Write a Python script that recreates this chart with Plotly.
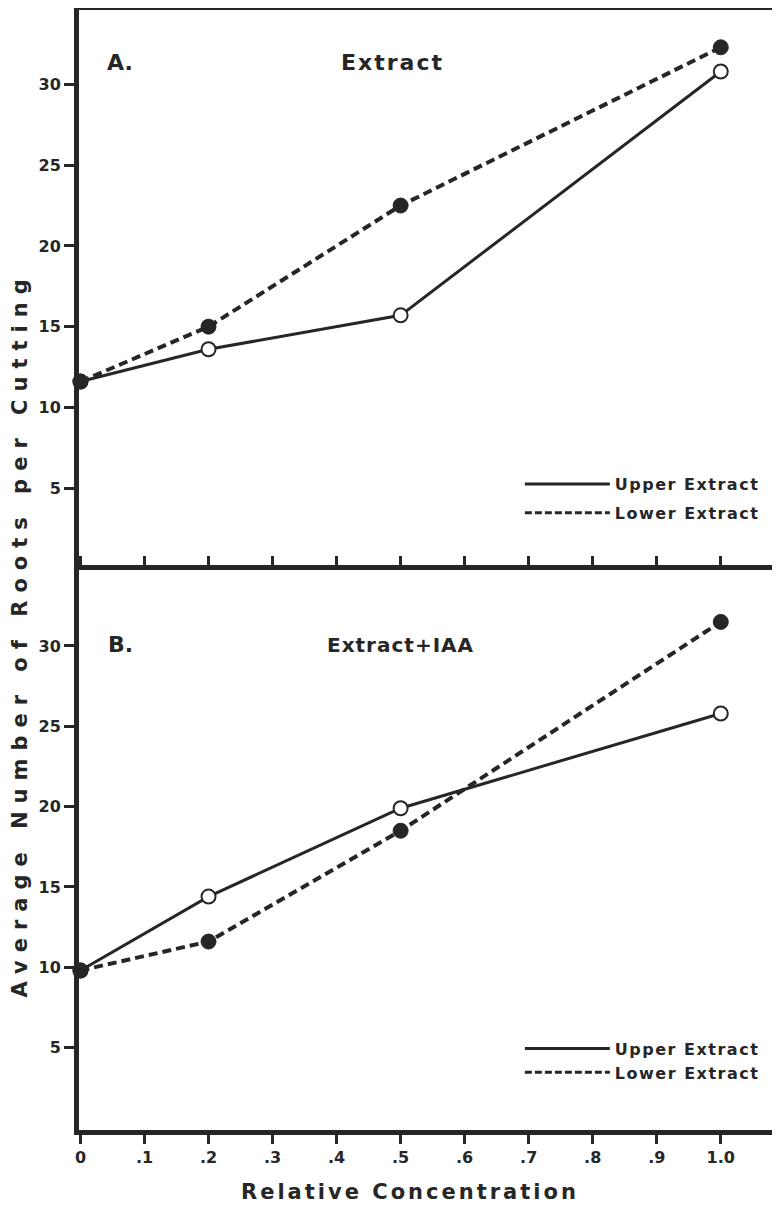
import plotly.graph_objects as go

# ---- data ----
conc = [0, 0.2, 0.5, 1.0]
a_upper = [11.6, 13.6, 15.7, 30.8]
a_lower = [11.6, 15.0, 22.5, 32.3]
b_upper = [9.8, 14.4, 19.9, 25.8]
b_lower = [9.8, 11.6, 18.5, 31.5]

x_tickvals = [0, 0.1, 0.2, 0.3, 0.4, 0.5, 0.6, 0.7, 0.8, 0.9, 1.0]
x_ticktext = ["0", ".1", ".2", ".3", ".4", ".5", ".6", ".7", ".8", ".9", "1.0"]
y_tickvals = [5, 10, 15, 20, 25, 30]

INK = "#262626"
FONT = "DejaVu Sans"

# page geometry (browser body has an 8px margin)
W, H = 772, 1213
PL, PR, PT, PB = 78.5, 772.5, 9.5, 1130.5


def px_x(px):
    return (px - PL) / (PR - PL)


def px_y(py):
    return (PB - py) / (PB - PT)


fig = go.Figure()


def add_panel(xa, ya, upper, lower):
    fig.add_trace(go.Scatter(
        x=conc, y=upper, xaxis=xa, yaxis=ya, mode="lines+markers",
        line=dict(color=INK, width=3),
        marker=dict(size=14, color="white", line=dict(color=INK, width=2)),
        showlegend=False, cliponaxis=False))
    fig.add_trace(go.Scatter(
        x=conc, y=lower, xaxis=xa, yaxis=ya, mode="lines+markers",
        line=dict(color=INK, width=4, dash="9px,5px"),
        marker=dict(size=15, color=INK, line=dict(color=INK, width=1)),
        showlegend=False, cliponaxis=False))


add_panel("x", "y", a_upper, a_lower)
add_panel("x2", "y2", b_upper, b_lower)


def sp(text, ls):
    return f'<span style="letter-spacing:{ls}px">{text}</span>'


# legend-only entries
for lg in ["legend", "legend2"]:
    fig.add_trace(go.Scatter(x=[None], y=[None], mode="lines", name=sp("Upper Extract", 1.5),
                             legendgroup=lg + "u",
                             line=dict(color=INK, width=3), legend=lg))
    fig.add_trace(go.Scatter(x=[None], y=[None], mode="lines", name=sp("Lower Extract", 1.5),
                             legendgroup=lg + "l",
                             line=dict(color=INK, width=3, dash="7px,3px"), legend=lg))

XR = [-0.0023, 1.080]
YA_R = [-0.41, 34.61]
YB_R = [-0.13, 34.70]

tickfont = dict(family=FONT, size=16, color=INK, weight="bold")
common_x = dict(range=XR, showgrid=False, zeroline=False, tickvals=x_tickvals,
                linecolor=INK, linewidth=5, tickcolor=INK, tickwidth=3, ticklen=9)
common_y = dict(showgrid=False, zeroline=False, tickvals=y_tickvals,
                linecolor=INK, linewidth=5, tickcolor=INK, tickwidth=3)

legend_font = dict(family=FONT, size=16, color=INK, weight="bold")

fig.update_layout(
    width=W, height=H,
    margin=dict(l=PL - 8, r=780 - PR, t=PT - 8, b=8 + H - PB, autoexpand=False),
    paper_bgcolor="white", plot_bgcolor="white",
    xaxis=dict(domain=[0, 1], anchor="y", showline=True, mirror=True,
               ticks="outside", showticklabels=False, **common_x),
    xaxis2=dict(domain=[0, 1], anchor="y2", showline=True, mirror="ticks",
                ticks="outside", showticklabels=True, ticktext=x_ticktext,
                tickfont=tickfont, **common_x),
    xaxis3=dict(overlaying="x2", anchor="y2", side="bottom", showline=False,
                ticks="inside", showticklabels=False, **common_x),
    yaxis=dict(domain=[px_y(575.5), 1], anchor="x", range=YA_R, showline=True, mirror=True,
               ticks="outside", ticklen=10, tickfont=tickfont, **common_y),
    yaxis3=dict(overlaying="y", anchor="x", side="left", range=YA_R, showline=False,
                ticks="inside", ticklen=9, showticklabels=False, **common_y),
    yaxis2=dict(domain=[0, px_y(570.5)], anchor="x2", range=YB_R, showline=True, mirror=True,
                ticks="outside", ticklen=10, tickfont=tickfont, **common_y),
    yaxis4=dict(overlaying="y2", anchor="x2", side="left", range=YB_R, showline=False,
                ticks="inside", ticklen=9, showticklabels=False, **common_y),
    legend=dict(x=px_x(520), y=px_y(467), xanchor="left", yanchor="top",
                bgcolor="rgba(0,0,0,0)", itemwidth=85, tracegroupgap=5, font=legend_font),
    legend2=dict(x=px_x(520), y=px_y(1032), xanchor="left", yanchor="top",
                 bgcolor="rgba(0,0,0,0)", itemwidth=85, tracegroupgap=0, font=legend_font),
)

ann = [
    dict(text="A.", x=120, y=62, size=22, ls=0),
    dict(text="Extract", x=392, y=62, size=22, ls=2),
    dict(text="B.", x=120, y=645, size=22, ls=0),
    dict(text="Extract+IAA", x=400, y=645, size=20, ls=1),
]
for a in ann:
    fig.add_annotation(text=sp(a["text"], a["ls"]) if a["ls"] else a["text"],
                       x=px_x(a["x"]), y=px_y(a["y"]), xref="paper", yref="paper",
                       showarrow=False, xanchor="center", yanchor="middle",
                       font=dict(family=FONT, size=a["size"], color=INK, weight="bold"))

fig.add_annotation(text=sp("Relative Concentration", 3), x=px_x(410), y=px_y(1193),
                   xref="paper", yref="paper", showarrow=False, xanchor="center",
                   yanchor="middle", font=dict(family=FONT, size=21, color=INK, weight="bold"))
fig.add_annotation(text=sp("Average Number of Roots per Cutting", 8), textangle=-90,
                   x=px_x(19), y=px_y(635), xref="paper", yref="paper",
                   showarrow=False, xanchor="center", yanchor="middle",
                   font=dict(family=FONT, size=21, color=INK, weight="bold"))

fig.write_html("out.html")
